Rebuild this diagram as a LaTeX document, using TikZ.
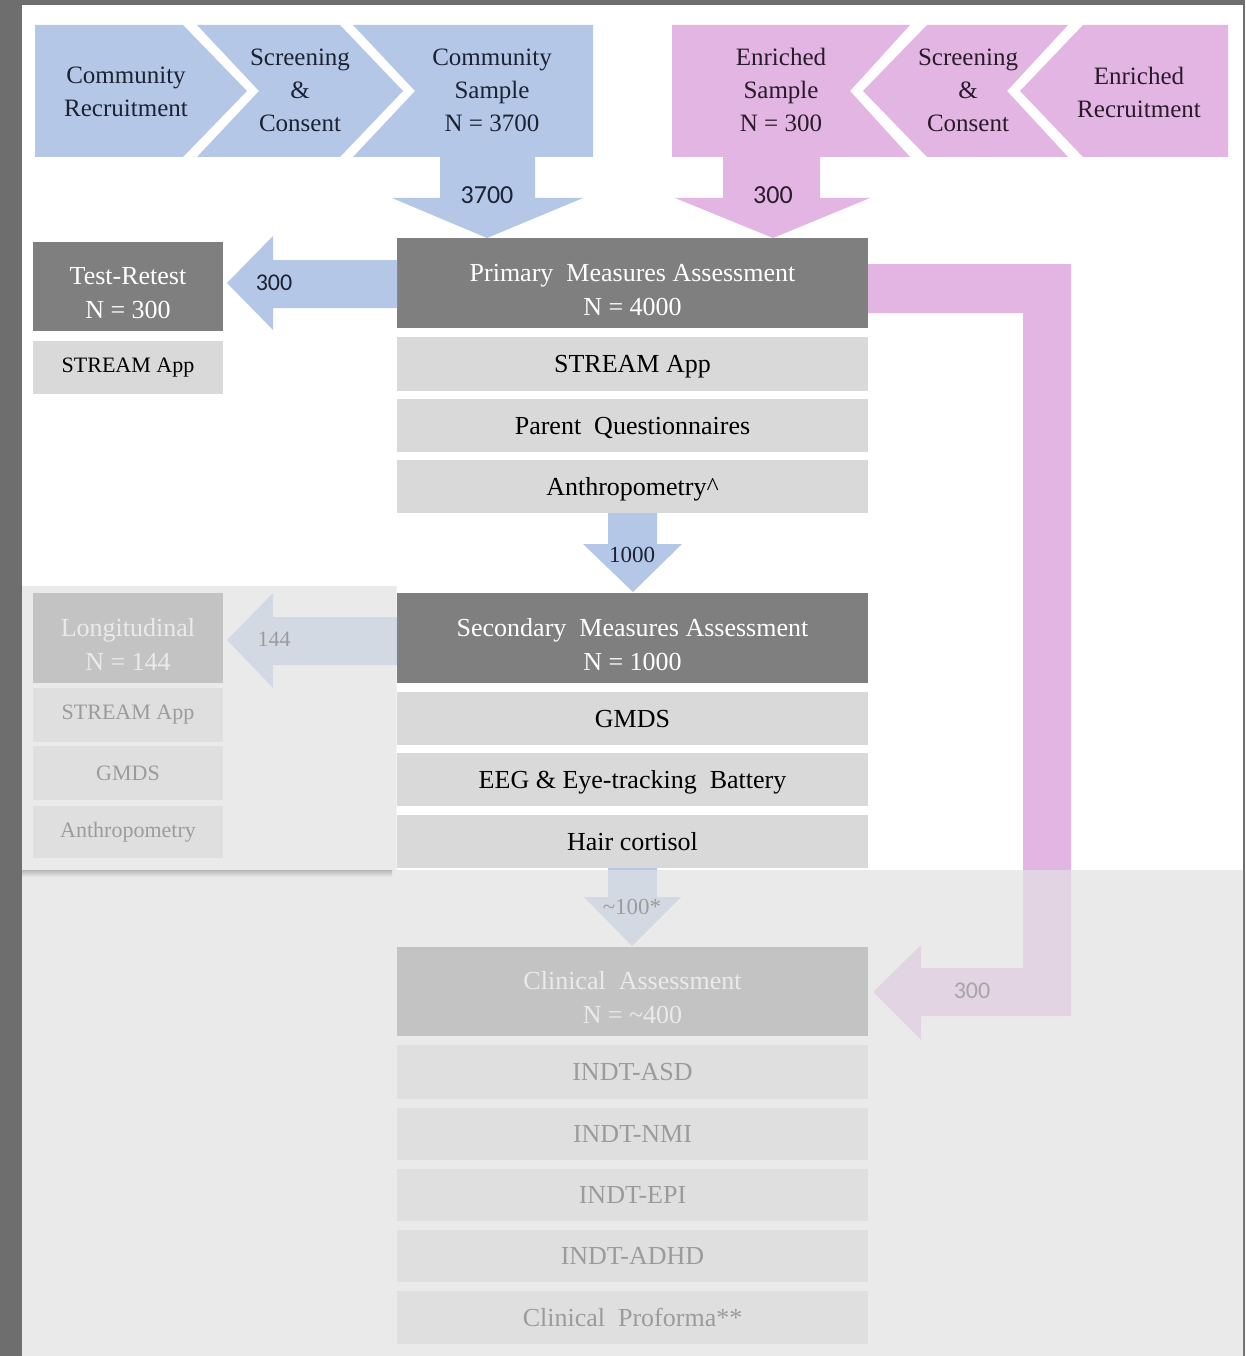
\documentclass[tikz,border=0pt]{standalone}
\usepackage{fontspec}
\setmainfont{Liberation Serif}
\newfontfamily\calib{Carlito}
\definecolor{framegray}{HTML}{6E6E6E}
\definecolor{chevblue}{HTML}{B4C7E7}
\definecolor{chevpink}{RGB}{227,181,227}
\definecolor{hdrgray}{HTML}{7F7F7F}
\definecolor{itemgray}{HTML}{D9D9D9}
\definecolor{inkblue}{HTML}{1C2233}
\definecolor{inkpink}{HTML}{2A1A2A}
\definecolor{veil}{RGB}{226,226,226}
\definecolor{veilbg}{RGB}{235,235,235}
% raises the first line of a two-line header so the pair sits centred
\newcommand\hdrstrut{\rule{0pt}{31pt}}

\begin{document}
\begin{tikzpicture}[x=1pt,y=-1pt,
  every node/.style={inner sep=0pt, outer sep=0pt},
  nw/.style={anchor=north west},
  hdr/.style={nw, fill=hdrgray, text=white, align=center,
    font=\fontsize{26}{34}\selectfont},
  item/.style={nw, fill=itemgray, text=black, align=center,
    minimum width=471pt, text height=17.5pt, text depth=0pt,
    font=\fontsize{26}{30}\selectfont},
  sitem/.style={nw, fill=itemgray, text=black, align=center,
    minimum width=190pt, font=\fontsize{22}{26}\selectfont},
  chevtext/.style={align=center, font=\fontsize{25}{33}\selectfont},
  serifnum/.style={text=black, font=\fontsize{23}{26}\selectfont},
  sansnum/.style={font=\calib\fontsize{26}{28}\selectfont},
]
\useasboundingbox (0,0) rectangle (1245,1356);

% page and surrounding frame
\fill[framegray] (0,0) rectangle (1245,1356);
\fill[white] (22,5) rectangle (1243,1356);

% community recruitment chevrons
\fill[chevblue] (35,25) -- (183,25) -- (247,91) -- (183,157) -- (35,157) -- cycle;
\fill[chevblue] (197,25) -- (340,25) -- (403,91) -- (340,157) -- (197,157) -- (259,91) -- cycle;
\fill[chevblue] (353,25) -- (593,25) -- (593,157) -- (353,157) -- (415,91) -- cycle;
\node[chevtext, text=inkblue] (comrec) at (126,92) {Community\\Recruitment};
\node[chevtext, text=inkblue] (comscr) at (300,90) {Screening\\\&\\Consent};
\node[chevtext, text=inkblue] (comsam) at (492,90) {Community\\Sample\\N = 3700};

% enriched recruitment chevrons
\fill[chevpink] (672,25) -- (910,25) -- (850,91) -- (910,157) -- (672,157) -- cycle;
\fill[chevpink] (927,25) -- (1068,25) -- (1007,91) -- (1068,157) -- (927,157) -- (863,91) -- cycle;
\fill[chevpink] (1083,25) -- (1228,25) -- (1228,157) -- (1083,157) -- (1020,91) -- cycle;
\node[chevtext, text=inkpink] (enrsam) at (781,90) {Enriched\\Sample\\N = 300};
\node[chevtext, text=inkpink] (enrscr) at (968,90) {Screening\\\&\\Consent};
\node[chevtext, text=inkpink] (enrrec) at (1139,92) {Enriched\\Recruitment};

% block arrows into the primary assessment
\fill[chevblue] (440,156) -- (535,156) -- (535,198) -- (583,198) -- (487,238) -- (392,198) -- (440,198) -- cycle;
\node[sansnum, text=inkblue] (n3700) at (487,195) {3700};
\fill[chevpink] (723,156) -- (820,156) -- (820,198) -- (870,198) -- (773,238) -- (675,198) -- (723,198) -- cycle;
\node[sansnum, text=inkpink] (n300a) at (773,195) {300};

% primary measures
\node[hdr, minimum width=471pt, minimum height=90pt] (prim) at (397,238) {\hdrstrut Primary\ \ Measures Assessment\\N = 4000};
\node[item, minimum height=54pt] (papp) at (397,337) {STREAM App};
\node[item, minimum height=53pt] (pq) at (397,399) {Parent\ \ Questionnaires};
\node[item, minimum height=53pt] (panth) at (397,460) {Anthropometry\textasciicircum};

% test-retest branch
\fill[chevblue] (397,260) -- (273,260) -- (273,236) -- (227,283) -- (273,330) -- (273,308) -- (397,308) -- cycle;
\node[sansnum, text=inkblue, font=\calib\fontsize{24}{26}\selectfont] (n300b) at (274,283) {300};
\node[hdr, minimum width=190pt, minimum height=89pt] (tr) at (33,242) {\hdrstrut Test-Retest\\N = 300};
\node[sitem, minimum height=53pt] (trapp) at (33,341) {STREAM App};

% primary to secondary
\fill[chevblue] (608,513) -- (657,513) -- (657,544) -- (682,544) -- (633,592) -- (583,544) -- (608,544) -- cycle;
\node[serifnum, text=inkblue] (n1000) at (632,555) {1000};

% secondary measures
\node[hdr, minimum width=471pt, minimum height=90pt] (sec) at (397,593) {\hdrstrut Secondary\ \ Measures Assessment\\N = 1000};
\node[item, minimum height=53pt] (gmds) at (397,692) {GMDS};
\node[item, minimum height=53pt] (eeg) at (397,753) {EEG \& Eye-tracking\ \ Battery};
\node[item, minimum height=53pt] (hair) at (397,815) {Hair cortisol};

% longitudinal branch
\fill[chevblue] (397,617) -- (273,617) -- (273,593) -- (227,640) -- (273,688) -- (273,665) -- (397,665) -- cycle;
\node[serifnum, font=\fontsize{22}{26}\selectfont] (n144) at (274,639) {144};
\node[hdr, minimum width=190pt, minimum height=90pt] (lon) at (33,593) {\hdrstrut Longitudinal\\N = 144};
\node[sitem, minimum height=54pt] (lapp) at (33,688) {STREAM App};
\node[sitem, minimum height=54pt] (lgmds) at (33,746) {GMDS};
\node[sitem, minimum height=52pt] (lanth) at (33,806) {Anthropometry};

% secondary to clinical
\fill[chevblue] (608,868) -- (657,868) -- (657,897) -- (681,897) -- (632,946) -- (584,897) -- (608,897) -- cycle;
\node[serifnum] (n100) at (632,907) {\textasciitilde100*};

% enriched sample routed to clinical
\fill[chevpink] (868,264) -- (1071,264) -- (1071,1016) -- (921,1016) -- (921,1040) -- (873,992)
  -- (921,945) -- (921,968) -- (1023,968) -- (1023,313) -- (868,313) -- cycle;
\node[sansnum, text=inkpink, font=\calib\fontsize{24}{26}\selectfont] (n300c) at (972,991) {300};

% clinical assessment
\node[hdr, minimum width=471pt, minimum height=89pt] (clin) at (397,947) {\hdrstrut Clinical\ \ Assessment\\N = \textasciitilde400};
\node[item, minimum height=54pt] (asd) at (397,1045) {INDT-ASD};
\node[item, minimum height=52pt] (nmi) at (397,1108) {INDT-NMI};
\node[item, minimum height=52pt] (epi) at (397,1169) {INDT-EPI};
\node[item, minimum height=52pt] (adhd) at (397,1230) {INDT-ADHD};
\node[item, minimum height=53pt] (prof) at (397,1291) {Clinical\ \ Proforma**};

% translucent veil over the later stages
\fill[veil, fill opacity=0.69] (22,586) -- (396.5,586) -- (396.5,870) -- (1243,870)
  -- (1243,1356) -- (22,1356) -- cycle;
\shade[top color=black!28, bottom color=veilbg] (22,870) rectangle (392,877);
\end{tikzpicture}
\end{document}
